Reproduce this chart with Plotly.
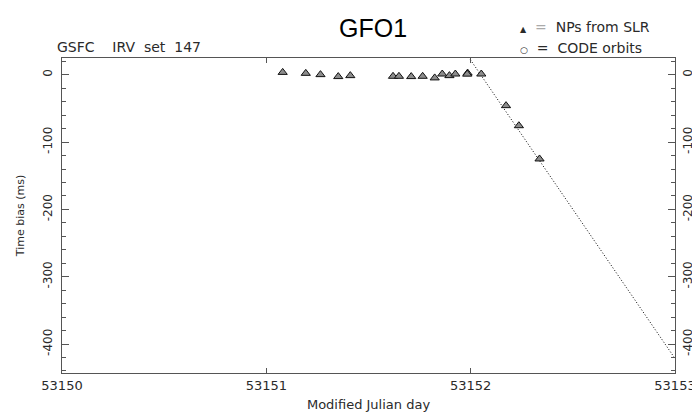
import plotly.graph_objects as go

# --- data ---
np_mjd = [53151.080, 53151.193, 53151.265, 53151.352, 53151.411, 53151.620, 53151.649,
          53151.709, 53151.765, 53151.824, 53151.861, 53151.896, 53151.925, 53151.985,
          53151.983, 53152.052, 53152.173, 53152.236, 53152.337]
np_bias = [3.6, 2.2, 0.3, -2.6, -1.2, -2.2, -2.2, -2.6, -2.2, -4.6, 1.2, -1.2, 1.2, 2.6,
           1.0, 1.2, -45.8, -75.6, -125.0]
line_mjd = [53151.99, 53153.0]
line_bias = [26.3, -421.5]

x_range = [53150, 53153]
y_range = [-443, 25]
x_ticks = [53150, 53151, 53152, 53153]
y_ticks = [0, -100, -200, -300, -400]

FONT = "DejaVu Sans"
TXT = "#2a2a2a"
AX = "#555555"

fig = go.Figure()
fig.add_trace(go.Scatter(x=line_mjd, y=line_bias, mode="lines",
                         line=dict(color="black", width=1, dash="1px,2px"),
                         showlegend=False, hoverinfo="skip"))
fig.add_trace(go.Scatter(x=np_mjd, y=np_bias, mode="markers",
                         marker=dict(symbol="triangle-up", size=8, color="#8c8c8c",
                                     line=dict(color="#111111", width=1)),
                         showlegend=False))
# invisible trace to anchor the right-hand axis
fig.add_trace(go.Scatter(x=[x_range[0]], y=[0], yaxis="y2", mode="markers",
                         marker=dict(opacity=0), showlegend=False, hoverinfo="skip"))

fig.update_layout(
    width=700, height=414,
    margin=dict(l=53, r=22, t=50, b=39),
    paper_bgcolor="white", plot_bgcolor="white",
    font=dict(family=FONT, color=TXT, size=13),
    xaxis=dict(range=x_range, tickvals=x_ticks, ticktext=[str(v) for v in x_ticks],
               ticks="inside", ticklen=5, tickcolor=AX, showline=True, linecolor=AX,
               linewidth=1, mirror="ticks", showgrid=False, zeroline=False,
               tickfont=dict(size=13, color=TXT),
               title=dict(text="Modified Julian day", font=dict(size=13, color=TXT),
                          standoff=8)),
    yaxis=dict(range=y_range, tickvals=y_ticks, ticktext=[str(v) for v in y_ticks],
               ticks="inside", ticklen=7, tickcolor=AX, showline=True, linecolor=AX,
               linewidth=1, mirror=True, showgrid=False, zeroline=False,
               tickangle=-90, tickfont=dict(size=12, color=TXT), ticklabelstandoff=4,
               minor=dict(dtick=20, tick0=0, ticks="inside", ticklen=4, tickcolor=AX),
               title=dict(text="Time bias (ms)", font=dict(size=11, color=TXT),
                          standoff=14)),
    yaxis2=dict(range=y_range, tickvals=y_ticks, ticktext=[str(v) for v in y_ticks],
                overlaying="y", side="right", ticks="inside", ticklen=7, tickcolor=AX,
                showline=False, showgrid=False, zeroline=False, tickangle=-90,
                tickfont=dict(size=12, color=TXT), ticklabelstandoff=4,
                minor=dict(dtick=20, tick0=0, ticks="inside", ticklen=4, tickcolor=AX)),
)

def px(x):
    return (x - 53) / 625.0

def py(y):
    return (375 - y) / 325.0

fig.add_annotation(text="GFO1", x=px(370), y=py(19), xref="paper", yref="paper",
                   showarrow=False, font=dict(family="Liberation Sans", size=25, color="black"),
                   xanchor="center", yanchor="middle")
fig.add_annotation(text="GSFC    IRV  set  147", x=px(46), y=py(39), xref="paper", yref="paper",
                   showarrow=False, font=dict(size=14, color=TXT),
                   xanchor="left", yanchor="middle")
fig.add_annotation(text='<span style="font-size:8px">\u25b2</span>  <span style="color:#aaaaaa">=</span>  NPs from SLR',
                   x=px(518), y=py(18), xref="paper", yref="paper", showarrow=False,
                   font=dict(size=14, color=TXT), xanchor="left", yanchor="middle")
fig.add_annotation(text='<span style="font-size:9px">\u25cb</span>  =  CODE orbits',
                   x=px(518), y=py(40), xref="paper", yref="paper", showarrow=False,
                   font=dict(size=14, color=TXT), xanchor="left", yanchor="middle")

fig.write_html("out.html")
